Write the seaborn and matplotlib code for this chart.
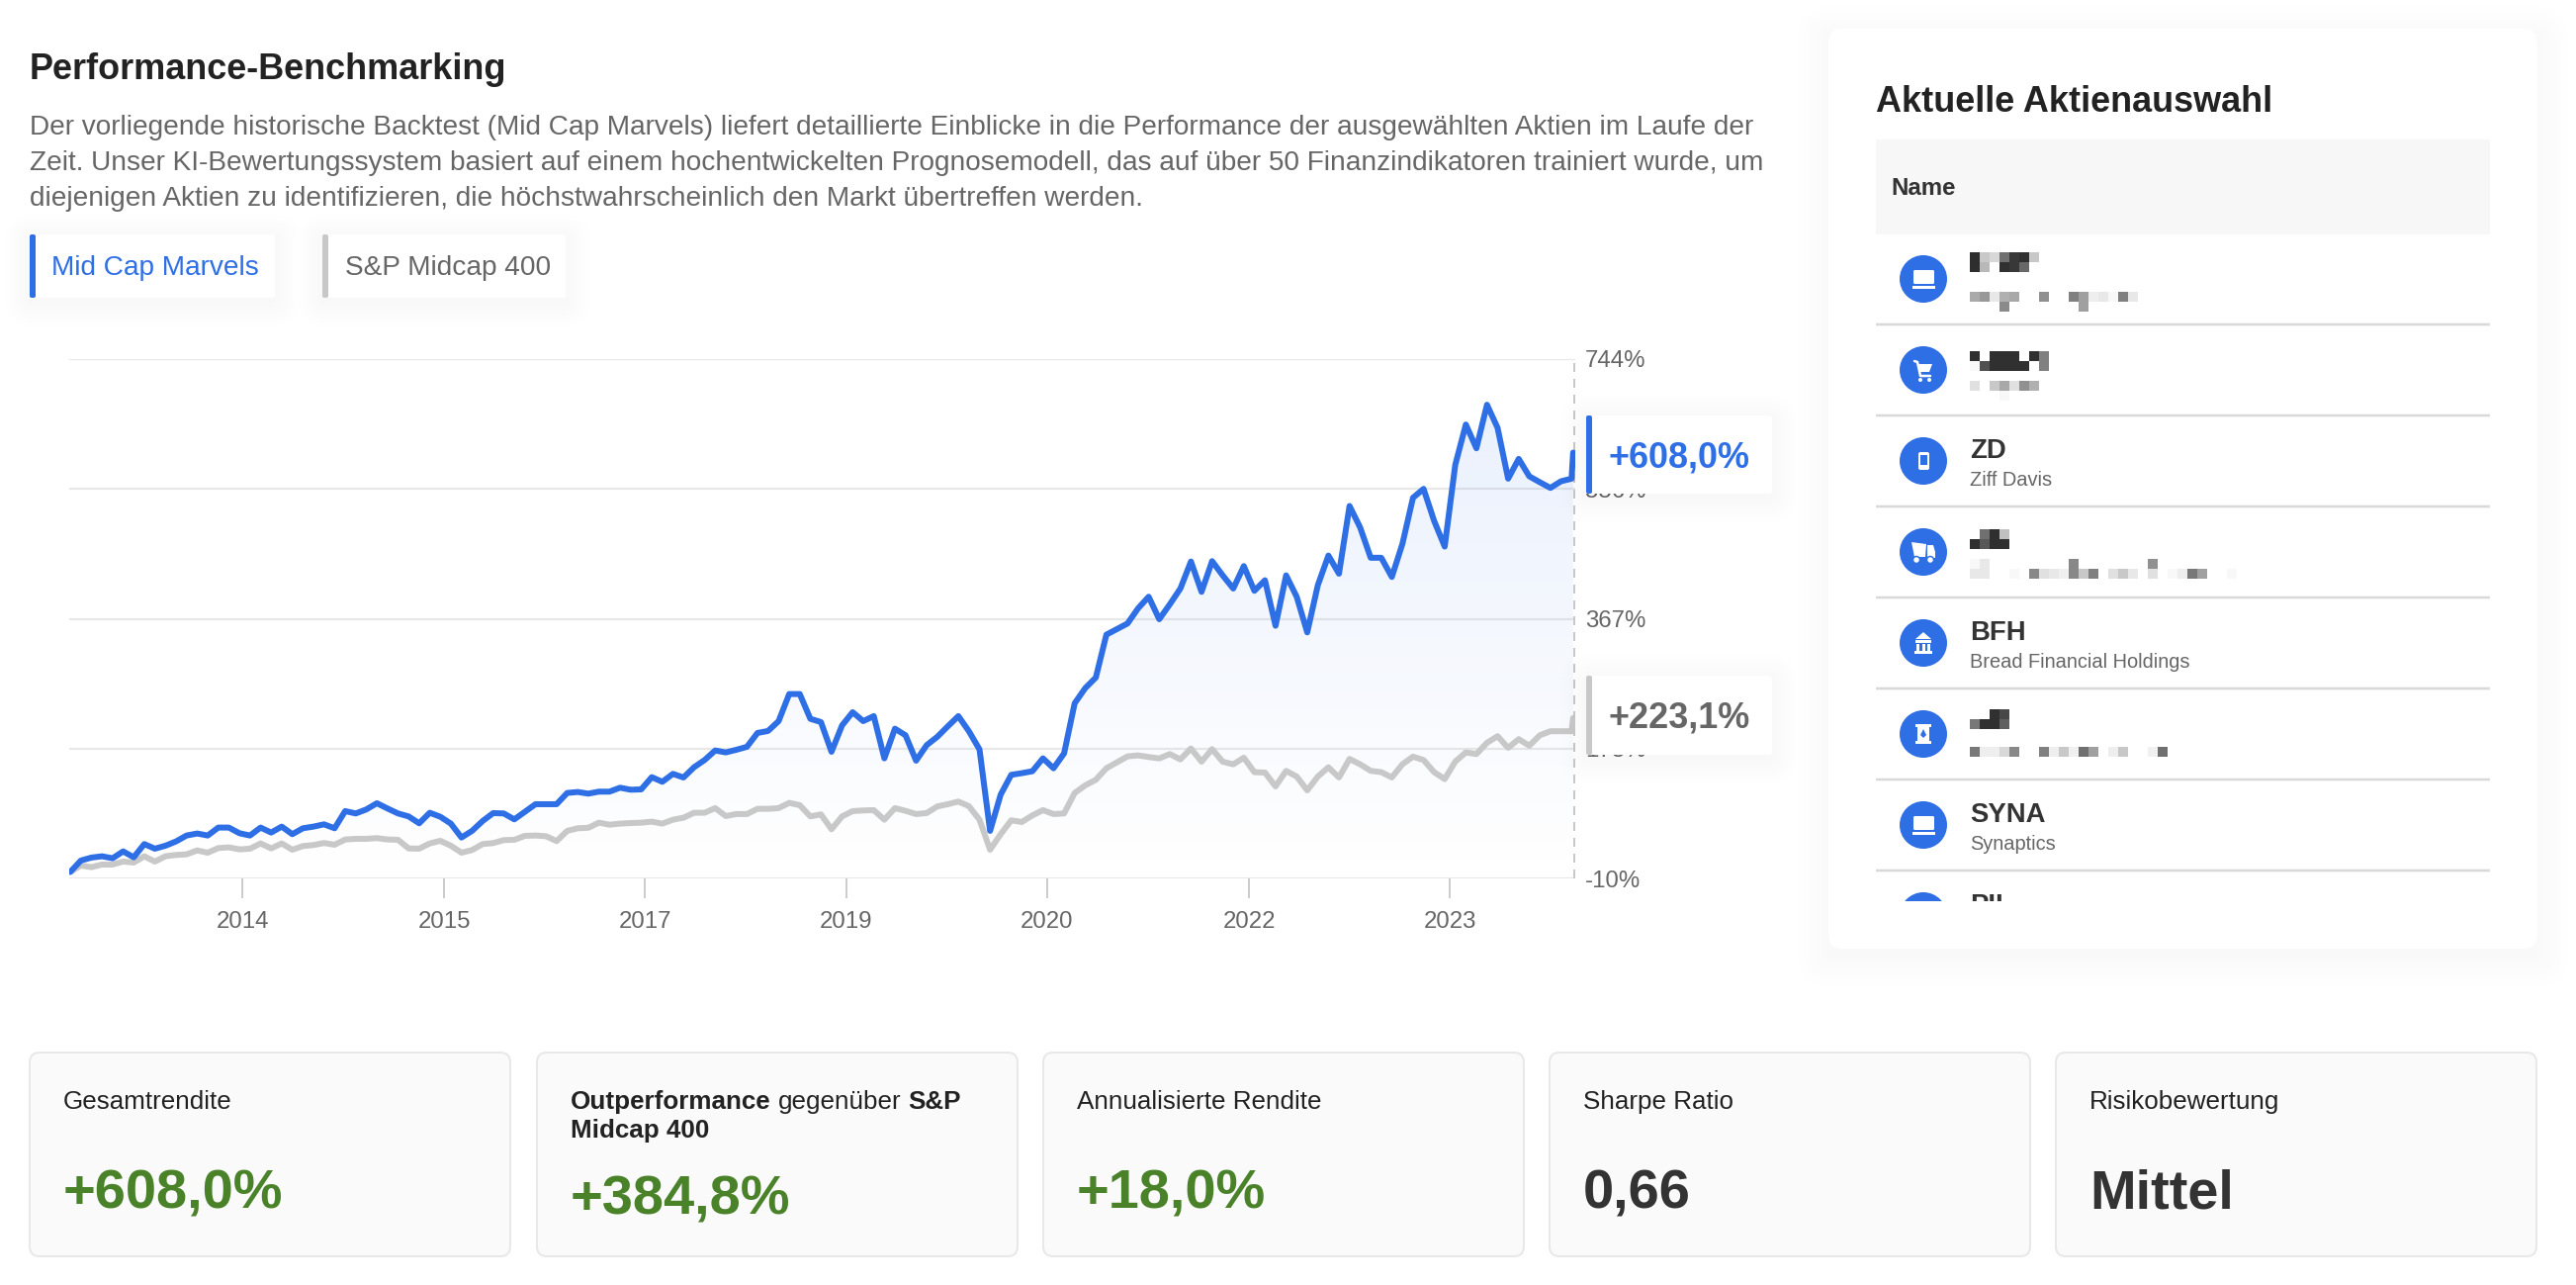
import numpy as np
import pandas as pd
import matplotlib
matplotlib.use("Agg")
import matplotlib.pyplot as plt
import seaborn as sns
from matplotlib.patches import Circle, FancyBboxPatch, Polygon, Rectangle

# month index, the last value is a partial month
marvels = [0, 16.5, 20.8, 22.7, 19.8, 29.8, 21.2, 40.4, 33.7, 38, 44.2, 52.8, 55.7, 52.8, 64.3, 64.3, 56.1, 52.8,
           64.3, 57.1, 65.7, 54.7, 63.3, 65.7, 69, 63.3, 88.2, 84.8, 90.6, 99.6, 92, 84.8, 80.5, 70.5, 85.8, 80,
           70, 49.9, 59.5, 73.8, 85.3, 84.8, 76.2, 87.2, 98.2, 98.2, 98.2, 114.5, 115.9, 113.5, 116.4, 116.4,
           122.1, 119.2, 119.7, 137.4, 130.7, 142.2, 136.9, 151.8, 162.3, 176.1, 173.3, 177.1, 181.4, 201.5,
           204.4, 218.7, 257.9, 257.9, 222, 217.3, 174.2, 212.5, 231.6, 218.7, 225.9, 164.7, 207.7, 198.2, 161.3,
           183.8, 195.8, 211.1, 225.9, 203.9, 177.6, 59.5, 112.1, 140.8, 143.2, 146, 164.7, 150.3, 171.9, 244.5,
           266.5, 281.8, 344, 352.1, 360.2, 382.2, 399, 366.4, 388, 410.9, 450.1, 406.1, 450.6, 430, 410.9, 443.4,
           407.6, 422.9, 356.9, 430, 399, 347.3, 415.7, 458.7, 432.4, 530.6, 499.5, 455.5, 455.5, 427.7, 475.6,
           542.5, 555.4, 509, 471.7, 590.3, 648.7, 614.2, 677.4, 643.9, 570.2, 598.9, 573.6, 565, 556.8, 566.4,
           570.2, 608]
midcap = [0, 9.3, 6.9, 10.7, 10.7, 15, 13.6, 22.7, 15, 22.7, 24.6, 25.5, 31.2, 27.9, 34.6, 35.6, 32.7, 33.7, 41.3,
          34.1, 41.3, 32.2, 37.5, 39, 41.9, 39.4, 47, 48, 48, 49, 47, 46.6, 34.1, 33.7, 41.3, 45.1, 38, 27.9, 31.7,
          40.4, 41.8, 46.1, 46.6, 52.3, 52.8, 51.8, 44.7, 59.5, 63.3, 64, 71.4, 68.5, 70, 70.9, 71.4, 72.9, 70,
          75.7, 78.6, 85.8, 85.8, 92.5, 81, 83.9, 83.9, 91.5, 91.5, 92.5, 100.1, 96.8, 80.5, 83.4, 61.9, 80.5,
          88.2, 89.1, 89.6, 75.7, 92.5, 88.6, 83.9, 85.3, 94.9, 98.2, 102, 95.3, 75.7, 32.2, 54.7, 74.8, 72.4, 82,
          89.6, 83.9, 84.8, 114.5, 125.5, 133.6, 150.3, 158.9, 167.5, 169, 166.6, 164.6, 170.9, 163.2, 179, 159.9,
          178, 159.9, 156, 165.6, 144.6, 144.1, 124, 146.5, 138.3, 118.3, 138.3, 151.7, 137, 163.8, 156.1, 146.6,
          144.7, 137, 156.1, 167.1, 162.3, 144.7, 134.6, 160, 173.3, 170.9, 187.2, 196.8, 180, 192.5, 183, 198.2,
          204, 204, 204, 223.1]
months = list(range(143)) + [142.15]

x_ticks = [16.27, 35.35, 54.34, 73.4, 92.4, 111.5, 130.5]
x_labels = ["2014", "2015", "2017", "2019", "2020", "2022", "2023"]
y_ticks = [-10, 178.5, 367, 555.5, 744]
y_labels = ["-10%", "178%", "367%", "556%", "744%"]

intro = ["Der vorliegende historische Backtest (Mid Cap Marvels) liefert detaillierte Einblicke in die Performance der ausgewählten Aktien im Laufe der",
         "Zeit. Unser KI-Bewertungssystem basiert auf einem hochentwickelten Prognosemodell, das auf über 50 Finanzindikatoren trainiert wurde, um",
         "diejenigen Aktien zu identifizieren, die höchstwahrscheinlich den Markt übertreffen werden."]
kpi_titles = ["Gesamtrendite", None, "Annualisierte Rendite", "Sharpe Ratio", "Risikobewertung"]
kpi_values = ["+608,0%", "+384,8%", "+18,0%", "0,66", "Mittel"]
stocks = [(None, None), (None, None), ("ZD", "Ziff Davis"), (None, None), ("BFH", "Bread Financial Holdings"),
          (None, None), ("SYNA", "Synaptics")]

# grey levels of the pixelated names
mosaics = [
    (255, [[46, 200, 216, 112, 56, 48, 200], [46, 184, 255, 48, 56, 104, 255]]),
    (295, [[170, 152, 232, 176, 168, 255, 255, 144, 255, 255, 128, 160, 238, 232, 248, 128, 232],
           [255, 255, 255, 138, 255, 255, 255, 255, 255, 255, 255, 160, 255, 255, 255, 255, 255]]),
    (355, [[48, 255, 48, 48, 48, 255, 48, 128], [248, 80, 48, 48, 48, 48, 255, 128]]),
    (385, [[224, 255, 200, 168, 224, 144, 176], [255, 255, 255, 248, 255, 255, 255]]),
    (535, [[255, 112, 48, 192], [48, 88, 48, 48]]),
    (565, [[248, 232, 255, 255, 255, 255, 255, 255, 255, 255, 136, 255, 255, 255, 255, 255, 255, 255, 144, 255, 255, 255, 255, 255, 255, 255, 255],
           [232, 232, 255, 255, 248, 255, 136, 224, 232, 240, 136, 200, 128, 255, 224, 200, 232, 255, 224, 255, 248, 238, 120, 160, 255, 255, 248]]),
    (717, [[255, 255, 48, 72], [120, 48, 48, 96]]),
    (755, [[120, 238, 238, 216, 136, 255, 255, 128, 238, 200, 240, 112, 160, 255, 238, 200, 255, 255, 240, 112]]),
]

BLUE = "#2f6fe6"
GREY = "#c8c8c8"
TEXT = "#666666"
DARK = "#333333"
GREEN = "#4a8229"

sns.set_theme(style="white")
plt.rcParams["font.family"] = ["Liberation Sans", "DejaVu Sans"]


def px(v):
    return v * 0.72


def shadow(ax, x0, y0, x1, y1, spread, step, dy=0):
    # one grey level per layer, lower alphas get lost in the 8 bit canvas
    for k in range(1, spread, step):
        ax.add_patch(FancyBboxPatch((x0 - k, y0 - k + dy), x1 - x0 + 2 * k, y1 - y0 + 2 * k,
                                    boxstyle=f"round,pad=0,rounding_size={k + 4}", fc="black", ec="none", alpha=0.0045))


def tag(ax, x0, y0, x1, y1, bar):
    shadow(ax, x0, y0, x1, y1, 26, 4, dy=4)
    ax.add_patch(FancyBboxPatch((x0, y0), x1 - x0, y1 - y0, boxstyle="round,pad=0,rounding_size=3", fc="white", ec="none"))
    ax.add_patch(FancyBboxPatch((x0, y0), 6, y1 - y0, boxstyle="round,pad=0,rounding_size=2", fc=bar, ec="none"))


def draw_icon(ax, kind, cx, cy):
    w = dict(fc="white", ec="none")
    if kind == "laptop":
        ax.add_patch(FancyBboxPatch((cx - 10, cy - 9), 21, 14, boxstyle="round,pad=0,rounding_size=1.5", **w))
        ax.add_patch(Rectangle((cx - 11, cy + 7), 23, 3, **w))
    elif kind == "cart":
        ax.add_patch(Polygon([(cx - 6, cy - 6), (cx + 9, cy - 6), (cx + 6, cy + 2), (cx - 4, cy + 2)], **w))
        ax.plot([cx - 9, cx - 6, cx - 3, cx + 7], [cy - 9, cy - 8, cy + 6, cy + 6], color="white", lw=px(2.5))
        ax.add_patch(Circle((cx - 3, cy + 10), 2, **w))
        ax.add_patch(Circle((cx + 6, cy + 10), 2, **w))
    elif kind == "phone":
        ax.add_patch(FancyBboxPatch((cx - 5, cy - 9), 11, 18, boxstyle="round,pad=0,rounding_size=2", **w))
        ax.add_patch(Rectangle((cx - 3, cy - 6), 7, 10, fc=BLUE, ec="none"))
    elif kind == "truck":
        ax.add_patch(Polygon([(cx - 12, cy - 10), (cx + 3, cy - 8), (cx + 2, cy + 5), (cx - 9, cy + 5)], **w))
        ax.add_patch(Polygon([(cx + 4, cy - 7), (cx + 10, cy - 7), (cx + 12, cy), (cx + 12, cy + 6), (cx + 4, cy + 6)], **w))
        for dx in (-7, 7):
            ax.add_patch(Circle((cx + dx, cy + 8), 3.5, fc="white", ec=BLUE, lw=px(1.5)))
    elif kind == "bank":
        ax.add_patch(Polygon([(cx - 8, cy - 4), (cx, cy - 11), (cx + 8, cy - 4)], **w))
        ax.add_patch(Rectangle((cx - 8, cy - 3), 16, 3, **w))
        for dx in (-7, -1.5, 4):
            ax.add_patch(Rectangle((cx + dx, cy + 1), 3, 7, **w))
        ax.add_patch(Rectangle((cx - 9, cy + 8), 18, 3, **w))
    elif kind == "barrel":
        ax.add_patch(Rectangle((cx - 6, cy - 10), 12, 20, **w))
        ax.add_patch(Rectangle((cx - 8, cy - 10), 16, 3, **w))
        ax.add_patch(Rectangle((cx - 8, cy + 7), 16, 3, **w))
        ax.add_patch(Polygon([(cx, cy - 5), (cx + 3, cy + 1), (cx, cy + 4), (cx - 3, cy + 1)], fc=BLUE, ec="none"))


fig = plt.figure(figsize=(26.05, 12.99), dpi=100, facecolor="white")

# page background, text and cards in pixel coordinates
page = fig.add_axes([0, 0, 1, 1], zorder=0)
page.set_xlim(0, 2605)
page.set_ylim(1299, 0)
page.axis("off")

page.text(30, 80, "Performance-Benchmarking", fontsize=px(36), fontweight="bold", color="#222222", va="baseline")
for line, base in zip(intro, [136, 172, 208]):
    page.text(30, base, line, fontsize=px(28), color=TEXT, va="baseline")

tag(page, 30, 237, 278, 301, BLUE)
tag(page, 326, 237, 572, 301, GREY)
page.text(52, 278, "Mid Cap Marvels", fontsize=px(28), color=BLUE, va="baseline")
page.text(349, 278, "S&P Midcap 400", fontsize=px(28), color=TEXT, va="baseline")

# stock list card
shadow(page, 1849, 29, 2566, 959, 36, 6, dy=8)
page.add_patch(FancyBboxPatch((1849, 29), 717, 930, boxstyle="round,pad=0,rounding_size=14", fc="white", ec="none"))
page.text(1897, 113, "Aktuelle Aktienauswahl", fontsize=px(36), fontweight="bold", color="#222222", va="baseline")
page.add_patch(Rectangle((1897, 141), 621, 96, fc="#f7f7f7", ec="none"))
page.text(1912, 197, "Name", fontsize=px(24), fontweight="bold", color=DARK, va="baseline")

icons = ["laptop", "cart", "phone", "truck", "bank", "barrel", "laptop"]
for i, ((ticker, name), kind) in enumerate(zip(stocks, icons)):
    cy = 282 + 92 * i
    page.add_patch(Circle((1945, cy), 24, fc=BLUE, ec="none"))
    draw_icon(page, kind, 1945, cy)
    page.plot([1897, 2518], [cy + 46, cy + 46], color="#d9d9d9", lw=px(2.5), solid_capstyle="butt")
    if ticker:
        page.text(1992, cy - 3, ticker, fontsize=px(27.5), fontweight="bold", color=DARK, va="baseline")
        page.text(1992, cy + 25, name, fontsize=px(20), color=TEXT, va="baseline")

for top, cells in mosaics:
    cells = np.array(cells)
    page.imshow(cells, cmap="gray", vmin=0, vmax=255, interpolation="nearest", aspect="auto", zorder=3,
                extent=(1992, 1992 + 10 * cells.shape[1], top + 10 * cells.shape[0], top))

# half hidden last row of the list
cut = Rectangle((1890, 890), 640, 21, transform=page.transData)
last_circle = Circle((1945, 926), 24, fc=BLUE, ec="none")
page.add_patch(last_circle)
last_circle.set_clip_path(cut)
last_ticker = page.text(1992, 923, "PII", fontsize=px(27.5), fontweight="bold", color=DARK, va="baseline", clip_on=True)
last_ticker.set_clip_path(cut)

# KPI cards
card_x = [30, 543, 1055, 1567, 2079]
for x0, title, value in zip(card_x, kpi_titles, kpi_values):
    page.add_patch(FancyBboxPatch((x0, 1064), 486, 206, boxstyle="round,pad=0,rounding_size=10",
                                  fc="#fafafa", ec="#e8e8e8", lw=px(2)))
    if title:
        page.text(x0 + 34, 1121, title, fontsize=px(26), color="#222222", va="baseline")
    color = GREEN if value.startswith("+") else DARK
    base = 1227 if value == "+384,8%" else 1222
    page.text(x0 + 34, base, value, fontsize=px(56), fontweight="bold", color=color, va="baseline")

renderer = fig.canvas.get_renderer()
pen = 577
for word, weight in [("Outperformance", "bold"), ("gegenüber", "normal"), ("S&P", "bold")]:
    t = page.text(pen, 1121, word, fontsize=px(26), fontweight=weight, color="#222222", va="baseline")
    pen += t.get_window_extent(renderer).width + 7
page.text(577, 1150, "Midcap 400", fontsize=px(26), fontweight="bold", color="#222222", va="baseline")
page.set_xlim(0, 2605)
page.set_ylim(1299, 0)

# chart
ax = fig.add_axes([70 / 2605, 1 - 888.4 / 1299, 1523 / 2605, 525.7 / 1299], zorder=1)
ax.patch.set_alpha(0)
df = pd.DataFrame({"month": months * 2, "value": marvels + midcap,
                   "series": ["Mid Cap Marvels"] * len(months) + ["S&P Midcap 400"] * len(months)})

area = ax.fill_between(months, marvels, -10, color="none", lw=0)
grad = ax.imshow(np.dstack([np.full((200, 2, 3), matplotlib.colors.to_rgb(BLUE)),
                            np.linspace(0.1, 0, 200)[:, None] * np.ones((200, 2))]),
                 extent=(-0.1, 142.35, -10, 677), origin="upper", aspect="auto", zorder=1.5)
grad.set_clip_path(area.get_paths()[0], ax.transData)

sns.lineplot(data=df, x="month", y="value", hue="series", hue_order=["S&P Midcap 400", "Mid Cap Marvels"],
             palette=[GREY, BLUE], estimator=None, sort=False, legend=False, linewidth=px(6), ax=ax, zorder=3)
for line in ax.get_lines():
    line.set_solid_joinstyle("round")

ax.axvline(142.3, color=GREY, lw=px(2), ls=(0, (4.5, 3.5)), zorder=1)
ax.set_xlim(-0.1, 142.35)
ax.set_ylim(-10, 744)
ax.set_xticks(x_ticks, x_labels)
ax.set_yticks(y_ticks, y_labels)
ax.yaxis.tick_right()
ax.grid(axis="y", color="#e8e8e8", lw=px(2.2))
ax.set_axisbelow(True)
ax.set_xlabel("")
ax.set_ylabel("")
ax.tick_params(axis="x", length=px(20), width=px(2), color="#cccccc", labelsize=px(24), labelcolor=TEXT, pad=px(13), bottom=True)
ax.tick_params(axis="y", length=0, labelsize=px(24), labelcolor=TEXT, pad=px(10))
sns.despine(ax=ax, left=True, right=True, top=True, bottom=True)

# value tags sit on top of the chart
over = fig.add_axes([0, 0, 1, 1], zorder=2)
over.set_xlim(0, 2605)
over.set_ylim(1299, 0)
over.axis("off")
tag(over, 1604, 420, 1792, 499, BLUE)
tag(over, 1604, 683, 1792, 763, GREY)
over.text(1626, 472, "+608,0%", fontsize=px(36), fontweight="bold", color=BLUE, va="baseline")
over.text(1626, 735, "+223,1%", fontsize=px(36), fontweight="bold", color=TEXT, va="baseline")

fig.savefig("out.png", dpi=100, facecolor="white")
